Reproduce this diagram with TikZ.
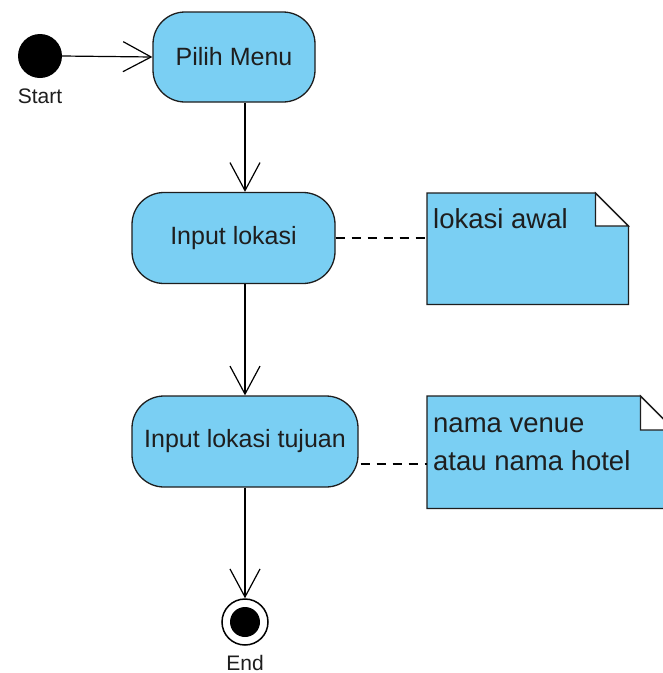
\documentclass[tikz,border=0pt]{standalone}
\usepackage{fontspec}
\setmainfont{Liberation Sans}
\usetikzlibrary{arrows.meta,calc}
\definecolor{actfill}{RGB}{122,207,243}
\definecolor{ink}{RGB}{30,30,30}
\begin{document}
\begin{tikzpicture}[x=1pt,y=-1pt,
  action/.style={draw=ink, line width=1.3pt, fill=actfill, rounded corners=32pt, minimum height=90pt, inner sep=0pt, font=\fontsize{25}{30}\selectfont, text=ink},
  flow/.style={line width=1.2pt, -{Straight Barb[length=28pt,width=30pt,line width=1.2pt]}},
  link/.style={line width=1.2pt, dash pattern=on 9pt off 7pt},
  notebox/.style={draw=ink, line width=1.3pt, fill=actfill},
  noteframe/.style={inner sep=0pt, anchor=north west},
  lbl/.style={font=\fontsize{21}{25}\selectfont, text=ink, inner sep=0pt, anchor=base},
  notetxt/.style={font=\fontsize{27.5}{38}\selectfont, text=ink, inner sep=0pt, anchor=base west}]
\useasboundingbox (0,0) rectangle (663,673);
\clip (0,0) rectangle (663,673);
\fill[white] (0,0) rectangle (663,673);

% start
\node[circle, fill=black, minimum size=44pt, inner sep=0pt] (s) at (40,56) {};
\node[lbl] (slbl) at (40,103) {Start};

% actions
\node[action, minimum width=162pt] (pm) at (234,57) {Pilih Menu};
\node[action, minimum width=203pt, minimum height=91pt] (il) at (233.5,238) {Input lokasi};
\node[action, minimum width=226pt, minimum height=91pt] (tj) at (245,441.5) {Input lokasi tujuan};

% end
\node[circle, draw=black, line width=1.5pt, fill=white, minimum size=46pt, inner sep=0pt] (e) at (245,622) {};
\node[circle, fill=black, minimum size=30pt, inner sep=0pt] (ein) at (e.center) {};
\node[lbl] (elbl) at (245,670) {End};

% flows
\coordinate (cx) at (245,0);
\draw[flow] (s.east) -- (pm.west);
\draw[flow] (pm.south -| cx) -- (il.north -| cx);
\draw[flow] (il.south -| cx) -- (tj.north -| cx);
\draw[flow] (tj.south) -- (e.north);

% note 1
\node[noteframe, minimum width=201pt, minimum height=111pt] (n1) at (427,193) {};
\draw[notebox] (n1.north west) -- ($(n1.north east)+(-33,0)$) -- ($(n1.north east)+(0,33)$) -- (n1.south east) -- (n1.south west) -- cycle;
\draw[draw=ink, line width=1.3pt, fill=white, line join=miter] ($(n1.north east)+(-33,0)$) -- ($(n1.north east)+(-33,33)$) -- ($(n1.north east)+(0,33)$) -- cycle;
\node[notetxt] (t1) at (433,228) {lokasi awal};

% note 2
\node[noteframe, minimum width=247pt, minimum height=112pt] (n2) at (427,396) {};
\draw[notebox] (n2.north west) -- ($(n2.north east)+(-34,0)$) -- ($(n2.north east)+(0,34)$) -- (n2.south east) -- (n2.south west) -- cycle;
\draw[draw=ink, line width=1.3pt, fill=white, line join=miter] ($(n2.north east)+(-34,0)$) -- ($(n2.north east)+(-34,34)$) -- ($(n2.north east)+(0,34)$) -- cycle;
\node[notetxt] (t2a) at (433,432) {nama venue};
\node[notetxt] (t2b) at (433,470) {atau nama hotel};

% links
\draw[link] (il.east) -- (il.east -| n1.west);
\path (tj.east) ++(2,22.5) coordinate (d2);
\draw[link] (d2) -- (d2 -| n2.west);
\end{tikzpicture}
\end{document}
